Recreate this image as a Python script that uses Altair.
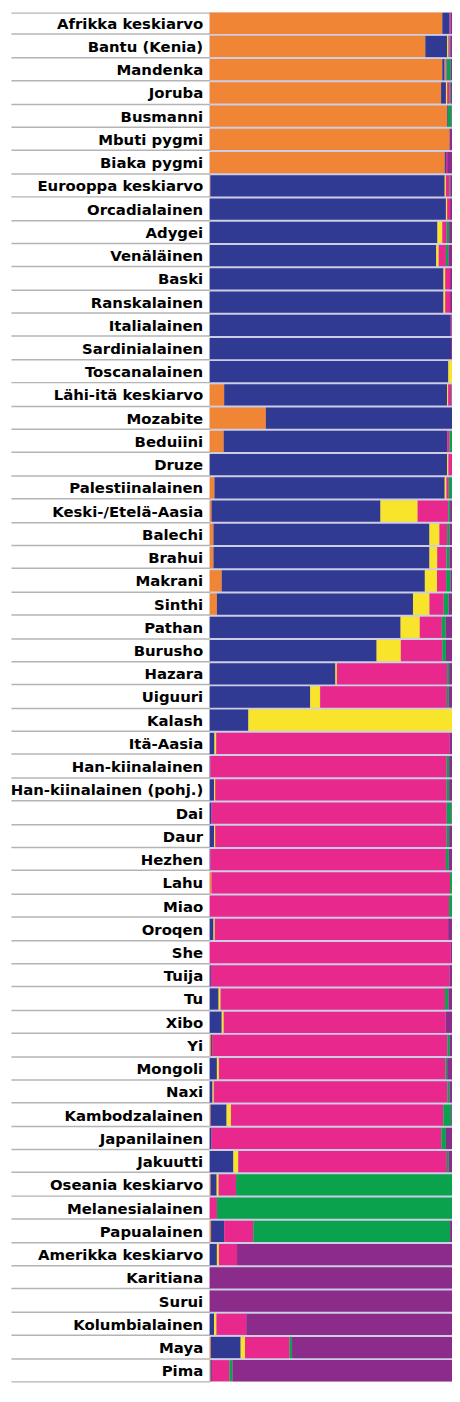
import altair as alt
import pandas as pd

pops = ["Afrikka keskiarvo", "Bantu (Kenia)", "Mandenka", "Joruba", "Busmanni",
        "Mbuti pygmi", "Biaka pygmi", "Eurooppa keskiarvo", "Orcadialainen", "Adygei",
        "Venäläinen", "Baski", "Ranskalainen", "Italialainen", "Sardinialainen",
        "Toscanalainen", "Lähi-itä keskiarvo", "Mozabite", "Beduiini", "Druze",
        "Palestiinalainen", "Keski-/Etelä-Aasia", "Balechi", "Brahui", "Makrani",
        "Sinthi", "Pathan", "Burusho", "Hazara", "Uiguuri", "Kalash", "Itä-Aasia",
        "Han-kiinalainen", "Han-kiinalainen (pohj.)", "Dai", "Daur", "Hezhen", "Lahu",
        "Miao", "Oroqen", "She", "Tuija", "Tu", "Xibo", "Yi", "Mongoli", "Naxi",
        "Kambodzalainen", "Japanilainen", "Jakuutti", "Oseania keskiarvo",
        "Melanesialainen", "Papualainen", "Amerikka keskiarvo", "Karitiana", "Surui",
        "Kolumbialainen", "Maya", "Pima"]

# component shares per population: Africa, Europe/Middle East, Kalash, East Asia, Oceania, America
africa  = [96, 89, 96, 95.5, 98, 99, 97, 0.3, 0, 0, 0, 0, 0, 0, 0, 0, 6, 23.2, 5.8, 0, 2,
           0.8, 1.6, 1.6, 5, 3, 0, 0, 0, 0, 0, 0, 0, 0, 0, 0, 0, 0.8, 0, 0, 0, 0, 0, 0,
           0.6, 0, 0, 0.4, 0, 0, 0.4, 0, 0.6, 0, 0, 0, 0, 0.5, 0.4]
europe  = [3, 9, 1, 2, 0.3, 0, 0.5, 96.7, 97.5, 94, 93.5, 96.5, 96.5, 99.5, 99.6, 98.5,
           92, 76.8, 92.2, 98, 95, 69.7, 89.1, 89.1, 83.8, 80.9, 78.8, 68.9, 51.9, 41.5,
           16, 2, 0.3, 1.8, 0.8, 1.8, 0.3, 0, 0, 1.6, 0, 0.5, 3.7, 5, 0.6, 3, 1.2, 6.6,
           0.8, 9.8, 2.5, 0, 5.4, 3, 0, 0, 1.8, 12.3, 0.5]
kalash  = [0, 0.5, 0.3, 0.5, 0, 0, 0, 0.5, 0.5, 2, 1, 0.7, 0.7, 0, 0, 1.5, 0.4, 0, 0,
           0.5, 0.7, 15.3, 4.1, 3.2, 5, 6.8, 7.9, 10, 0.6, 4.1, 84, 0.7, 0, 0.5, 0, 0.5,
           0, 0, 0, 0.5, 0, 0, 0.8, 0.8, 0, 0.8, 0.5, 1.8, 0, 2, 0.8, 0, 0, 0.8, 0, 0,
           1, 1.8, 0]
eastasia = [0.4, 0.5, 0.5, 1, 0, 0, 0.5, 1.5, 1.2, 1.8, 3, 2, 2, 0.3, 0, 0, 1.4, 0, 1,
            1.5, 1, 12.7, 3.2, 3.8, 3.8, 5.9, 9.1, 17.1, 45.5, 52.3, 0, 96.3, 97.5, 95.5,
            97, 95.5, 97.2, 98.4, 98.8, 96.3, 99.5, 98.5, 92.6, 91.6, 96.9, 93.5, 96.4,
            87.6, 94.8, 86.1, 7.2, 3, 12, 7.5, 0, 0, 12.3, 18.4, 7.3]
oceania = [0, 0.3, 1.7, 0.5, 1.5, 0, 0, 0.3, 0, 1, 1, 0, 0, 0, 0, 0, 0.2, 0, 1, 0, 1.3,
           0.7, 1, 1.2, 1.8, 2, 1.6, 1.5, 0.8, 0.8, 0, 0, 1, 1, 2, 1, 1.2, 0.8, 1.2, 0,
           0, 0, 1.4, 0, 1, 0.7, 0.9, 3.3, 1.9, 0.8, 89.1, 97, 81.2, 0, 0, 0, 0, 1, 1.2]
america = [0.6, 0.7, 0.5, 0.5, 0.2, 1, 2, 0.7, 0.8, 1.2, 1.5, 0.8, 0.8, 0.2, 0.4, 0, 0,
           0, 0, 0, 0, 0.8, 1, 1.1, 0.6, 1.4, 2.6, 2.5, 1.2, 1.3, 0, 1, 1.2, 1.2, 0.2,
           1.2, 1.3, 0, 0, 1.6, 0.5, 1, 1.5, 2.6, 0.9, 2, 1, 0.3, 2.5, 1.3, 0, 0, 0.8,
           88.7, 100, 100, 84.9, 66, 90.6]

comps = ["Afrikka", "Eurooppa", "Kalash", "Itä-Aasia", "Oseania", "Amerikka"]
colors = ["#ef8535", "#303a92", "#f8e42a", "#e8288c", "#0aa24c", "#8c2c8a"]
series = [africa, europe, kalash, eastasia, oceania, america]

rows = []
for ci, (c, vals) in enumerate(zip(comps, series)):
    for p, v in zip(pops, vals):
        rows.append({"pop": p, "comp": c, "k": ci, "v": v})
df = pd.DataFrame(rows)

chart = alt.Chart(df).mark_bar(strokeWidth=0).encode(
    y=alt.Y("pop:N", sort=pops, title=None,
            scale=alt.Scale(paddingInner=0.085, paddingOuter=0),
            axis=alt.Axis(domain=False, tickBand="extent", tickSize=200,
                          tickColor="#b4b4b4", tickWidth=1.5, labelPadding=-193,
                          labelFont="DejaVu Sans", labelFontWeight="bold",
                          labelFontSize=15, labelColor="#000000", labelLimit=300)),
    x=alt.X("v:Q", stack="normalize", axis=None,
            scale=alt.Scale(domain=[0, 1], nice=False)),
    color=alt.Color("comp:N", scale=alt.Scale(domain=comps, range=colors), legend=None),
    order=alt.Order("k:Q"),
).properties(
    width=244, height=1378,
    autosize=alt.AutoSizeParams(type="none"),
    padding={"left": 203, "top": 0, "right": 0, "bottom": 0},
).configure_view(fill="#cdcde6", stroke=None)

chart.save("out.html", embed_options={"renderer": "svg", "actions": False})
